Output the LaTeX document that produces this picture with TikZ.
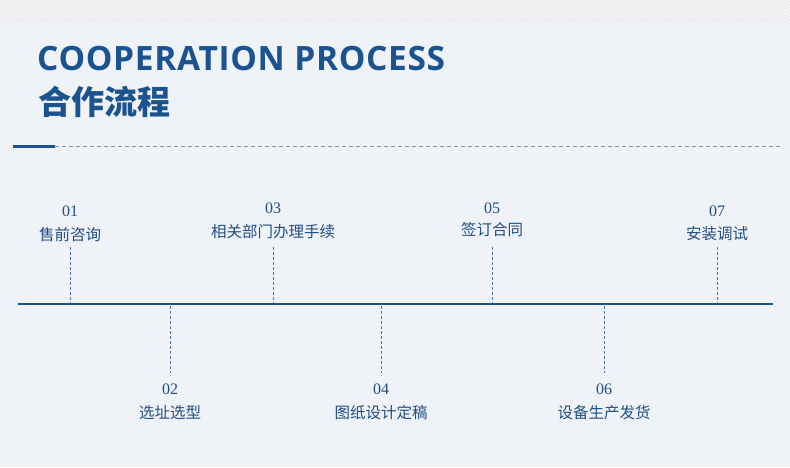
\documentclass[tikz,border=0pt]{standalone}
\usepackage{fontspec}
\setmainfont{Liberation Serif}
\newfontfamily\cjk{Noto Sans CJK SC}
\newfontfamily\ttl[LetterSpace=2]{Open Sans}
\usetikzlibrary{patterns}
\definecolor{bg}{HTML}{EFF2F7}
\definecolor{navy}{HTML}{1B5391}
\definecolor{lbl}{HTML}{204E86}
\begin{document}
\begin{tikzpicture}[x=1pt,y=-1pt,
  num/.style={font=\fontsize{16}{16}\selectfont, text=lbl, anchor=base, inner sep=0},
  lab/.style={font=\cjk\fontsize{15.5}{16}\selectfont, text=lbl, anchor=base, inner sep=0},
  tick/.style={draw=lbl!80, dashed, dash pattern=on 3pt off 2pt, line width=0.7pt}]
\fill[bg] (0,0) rectangle (790,467);
\fill[white!60!bg] (0,0) rectangle (790,20);
\fill[pattern=north east lines, pattern color=black!12] (0,0) rectangle (790,20);
\useasboundingbox (0,0) rectangle (790,467);
\node[font=\ttl\bfseries\fontsize{33.5}{34}\selectfont, text=navy, anchor=base west, inner sep=0] (t1) at (37,70) {COOPERATION PROCESS};
\node[font=\cjk\bfseries\fontsize{33}{33}\selectfont, text=navy, anchor=base west, inner sep=0] (t2) at (38,114) {合作流程};
\coordinate (h0) at (13,146); \coordinate (h1) at (55,146); \coordinate (h2) at (780,146);
\draw[navy, line width=3pt] (h0) -- (h1);
\draw[navy!60, line width=0.8pt, dash pattern=on 4pt off 3pt] (h1) -- (h2);
\coordinate (L) at (18,304); \coordinate (R) at (773,304);
\draw[navy, line width=1.8pt] (L) -- (R);
\foreach \n/\x/\ny/\ly/\t/\lab in {a/70/216/240/01/售前咨询, c/273/213/237/03/相关部门办理手续, e/492/213/235/05/签订合同, g/717/216/239/07/安装调试}{
  \node[num] (n\n) at (\x,\ny) {\t};
  \node[lab] (l\n) at (\x,\ly) {\lab};
  \coordinate (s\n) at (\x,247); \coordinate (e\n) at (\x,303);
  \draw[tick] (s\n) -- (e\n);
}
\foreach \n/\x/\t/\lab in {b/170/02/选址选型, d/381/04/图纸设计定稿, f/604/06/设备生产发货}{
  \node[num] (n\n) at (\x,394) {\t};
  \node[lab] (l\n) at (\x,418) {\lab};
  \coordinate (s\n) at (\x,306); \coordinate (e\n) at (\x,373);
  \draw[tick] (s\n) -- (e\n);
}
\end{tikzpicture}
\end{document}
